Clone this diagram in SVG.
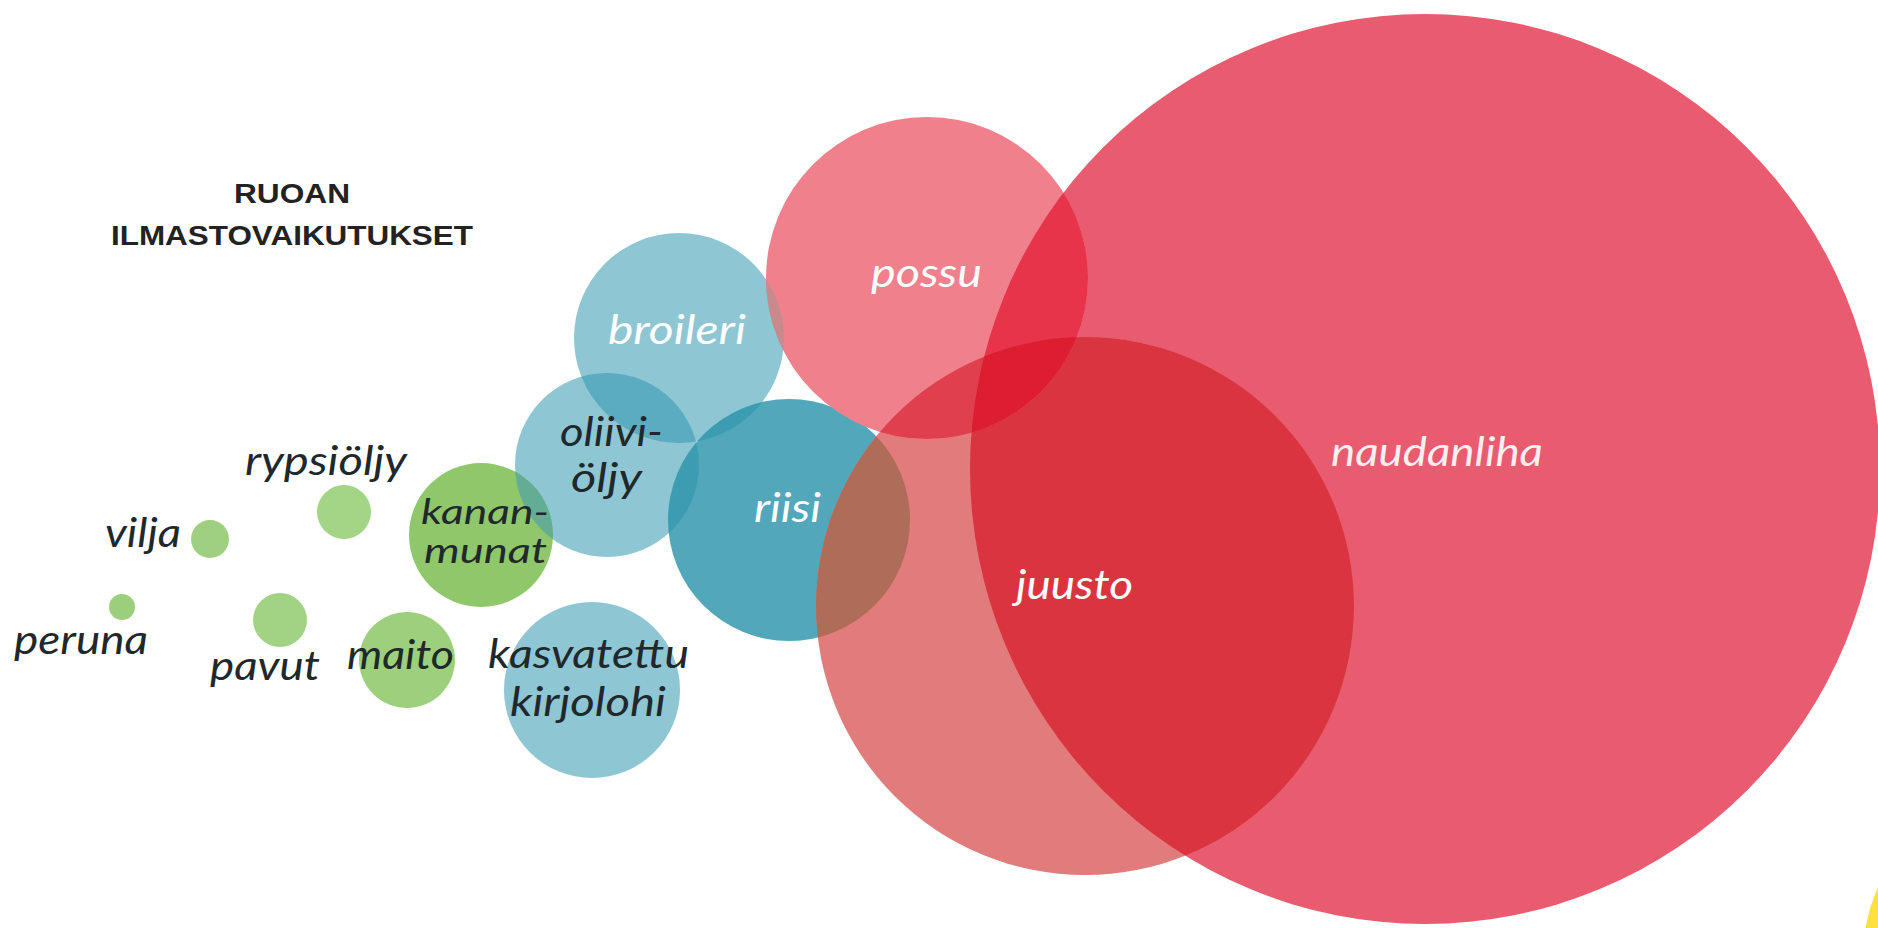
<svg xmlns="http://www.w3.org/2000/svg" width="1878" height="928" viewBox="0 0 1878 928">
<style>
.lbl{font-family:"Lato","Open Sans","Liberation Sans",sans-serif;font-style:italic;font-size:40px}
.sm{font-size:35px}
.dark{fill:#20282b}
.light{fill:#ffffff}
.pale{fill:#fdeef0}
.teal{fill:#3397b0;fill-opacity:0.55}
.title{font-family:"Liberation Sans","Open Sans",sans-serif;font-weight:bold;font-size:27px;fill:#222222}
</style>
<defs>
<clipPath id="cp-naud"><circle cx="1425" cy="469" r="455"/></clipPath>
<clipPath id="cp-juusto"><circle cx="1085" cy="606" r="269"/></clipPath>
<clipPath id="cp-riisi"><circle cx="789" cy="520" r="121"/></clipPath>
<clipPath id="cp-broileri"><circle cx="679" cy="338" r="105"/></clipPath>
<clipPath id="cp-oliivi"><circle cx="607" cy="465" r="92"/></clipPath>
</defs>
<rect width="1878" height="928" fill="#ffffff"/>

<g id="title">
<text class="title" x="234" y="203" textLength="116" lengthAdjust="spacingAndGlyphs">RUOAN</text>
<text class="title" x="111" y="245" textLength="362" lengthAdjust="spacingAndGlyphs">ILMASTOVAIKUTUKSET</text>
</g>

<g id="connectors"></g>

<g id="broileri">
<circle class="teal" cx="679" cy="338" r="105"/>
<text class="lbl light" x="608" y="344" textLength="138" lengthAdjust="spacingAndGlyphs">broileri</text>
</g>

<g id="oliivioljy">
<circle class="teal" cx="607" cy="465" r="92"/>
<text class="lbl dark" x="560" y="446" textLength="103" lengthAdjust="spacingAndGlyphs">oliivi-</text>
<text class="lbl dark" x="571" y="492" textLength="71" lengthAdjust="spacingAndGlyphs">öljy</text>
</g>

<g id="riisi">
<circle cx="789" cy="520" r="121" fill="#2792a9" fill-opacity="0.8"/>
<text class="lbl light" x="754" y="522" textLength="67" lengthAdjust="spacingAndGlyphs">riisi</text>
</g>

<g id="kirjolohi">
<circle class="teal" cx="592" cy="690" r="88"/>
<text class="lbl dark" x="488" y="668" textLength="201" lengthAdjust="spacingAndGlyphs">kasvatettu</text>
<text class="lbl dark" x="510" y="716" textLength="156" lengthAdjust="spacingAndGlyphs">kirjolohi</text>
</g>

<g id="kananmunat">
<circle cx="481" cy="535" r="72" fill="#8fc76a"/>
<g clip-path="url(#cp-oliivi)"><circle cx="481" cy="535" r="72" fill="#63ad95"/></g>
<text class="lbl sm dark" x="421" y="524" textLength="128" lengthAdjust="spacingAndGlyphs">kanan-</text>
<text class="lbl sm dark" x="424" y="563" textLength="123" lengthAdjust="spacingAndGlyphs">munat</text>
</g>

<g id="maito">
<circle cx="407" cy="660" r="48" fill="#9dcf7d"/>
<text class="lbl dark" x="347" y="669" textLength="107" lengthAdjust="spacingAndGlyphs">maito</text>
</g>

<g id="rypsioljy">
<circle cx="344" cy="512" r="27" fill="#a4d486"/>
<text class="lbl dark" x="245" y="475" textLength="162" lengthAdjust="spacingAndGlyphs">rypsiöljy</text>
</g>

<g id="vilja">
<circle cx="210" cy="539" r="19" fill="#9fd080"/>
<text class="lbl dark" x="105" y="547" textLength="76" lengthAdjust="spacingAndGlyphs">vilja</text>
</g>

<g id="pavut">
<circle cx="280" cy="620" r="27" fill="#a2d283"/>
<text class="lbl dark" x="210" y="680" textLength="110" lengthAdjust="spacingAndGlyphs">pavut</text>
</g>

<g id="peruna">
<circle cx="122" cy="607" r="13" fill="#9ccf7c"/>
<text class="lbl dark" x="14" y="654" textLength="134" lengthAdjust="spacingAndGlyphs">peruna</text>
</g>

<g id="naudanliha">
<circle cx="1425" cy="469" r="455" fill="#e95b6e"/>
<text class="lbl pale" x="1331" y="466" textLength="212" lengthAdjust="spacingAndGlyphs">naudanliha</text>
</g>

<g id="juusto">
<circle cx="1085" cy="606" r="269" fill="#e27b7b"/>
<g clip-path="url(#cp-naud)"><circle cx="1085" cy="606" r="269" fill="#da3440"/></g>
<g clip-path="url(#cp-riisi)"><circle cx="1085" cy="606" r="269" fill="#af6c58"/></g>
<text class="lbl light" x="1016" y="599" textLength="117" lengthAdjust="spacingAndGlyphs">juusto</text>
</g>

<g id="possu">
<circle cx="927" cy="278" r="161" fill="#ef808c"/>
<g clip-path="url(#cp-naud)"><circle cx="927" cy="278" r="161" fill="#e8344a"/></g>
<g clip-path="url(#cp-juusto)"><circle cx="927" cy="278" r="161" fill="#e0404e"/></g>
<g clip-path="url(#cp-juusto)"><g clip-path="url(#cp-naud)"><circle cx="927" cy="278" r="161" fill="#dd1d30"/></g></g>
<g clip-path="url(#cp-broileri)"><circle cx="927" cy="278" r="161" fill="#c98a8e"/></g>
<text class="lbl light" x="871" y="287" textLength="111" lengthAdjust="spacingAndGlyphs">possu</text>
</g>

<circle cx="2010" cy="950" r="146" fill="#ffe03c"/>
</svg>
